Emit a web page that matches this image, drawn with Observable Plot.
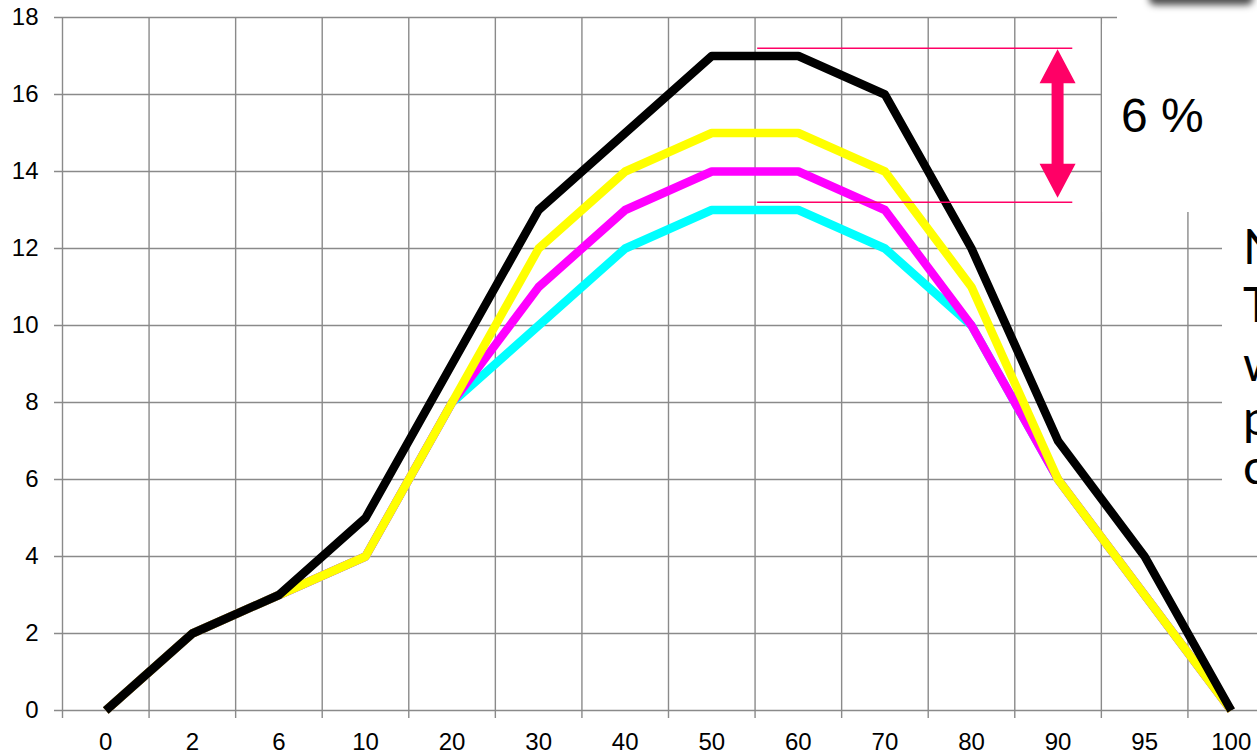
<!DOCTYPE html>
<html>
<head>
<meta charset="utf-8">
<script src="https://cdn.jsdelivr.net/npm/d3@7"></script>
<script src="https://cdn.jsdelivr.net/npm/@observablehq/plot@0.6"></script>
<style>
  html, body { margin: 0; padding: 0; background: #fff; overflow: hidden; }
  #wrap { position: relative; width: 1257px; height: 756px; overflow: hidden; background: #fff; }
  #chart svg { display: block; max-width: none !important; }
  .panel { position: absolute; background: #fff; }
  .note { position: absolute; white-space: nowrap; color: #000; }
</style>
</head>
<body>
<div id="wrap">
  <div id="chart"></div>
  <!-- text panels sitting over the right edge of the grid -->
  <div class="panel" style="left:1102px; top:24px; width:200px; height:188px;"></div>
  <div class="panel" style="left:1117px; top:0px; width:200px; height:30px;"></div>
  <div class="panel" style="left:1222px; top:212px; width:100px; height:290px;"></div>
  <div class="panel" style="left:1146px; top:-80px; width:104px; height:80px; border-radius:6px; box-shadow:3px 5px 7px rgba(0,0,0,0.7);"></div>
  <div class="note" style="left:1121px; top:92px; font:48px 'Liberation Sans', Arial, sans-serif; line-height:48px;">6 %</div>
  <div class="note" id="side" style="left:1243px; top:0; font:48px Lato, 'Open Sans', sans-serif;"></div>
</div>
<script>
// x categories (evenly spaced bands)
const categories = ["0", "2", "6", "10", "20", "30", "40", "50", "60", "70", "80", "90", "95", "100"];

// series values, one per category
const cyanValues    = [0, 2, 3, 4, 8, 10, 12, 13, 13, 12, 10, 6, 3, 0];
const magentaValues = [0, 2, 3, 4, 8, 11, 13, 14, 14, 13, 10, 6, 3, 0];
const yellowValues  = [0, 2, 3, 4, 8, 12, 14, 15, 15, 14, 11, 6, 3, 0];
const blackValues   = [0, 2, 3, 5, 9, 13, 15, 17, 17, 16, 12, 7, 4, 0];

// drawing order: first is underneath
const seriesNames  = ["cyan", "magenta", "yellow", "black"];
const seriesColors = ["#66ffff", "#ff00ff", "#ffff00", "#000000"];
const seriesValues = [cyanValues, magentaValues, yellowValues, blackValues];

// y tick values
const yTicks = [0, 2, 4, 6, 8, 10, 12, 14, 16, 18];

// spread bracket: two guide lines and a double arrow between them
const bracketLevels = [17.2, 13.2];
const bracketFrom = 7.53, bracketTo = 11.17, bracketArrowAt = 11;
const bracketColor = "#ff0066";

// side text (lines of a text box running off the right edge)
const sideLines = ["N", "T", "w", "p", "c"];
const sideBaselines = [262, 320, 379, 433, 482];

const rows = [];
seriesNames.forEach((name, s) => {
  seriesValues[s].forEach((v, i) => rows.push({series: name, i, value: v}));
});

const bandEdges = d3.range(categories.length + 1).map(k => k - 0.5);
const gridColor = "#8a8a8a";

const chart = Plot.plot({
  width: 1290,
  height: 756,
  marginLeft: 62,
  marginRight: 16,
  marginTop: 17,
  marginBottom: 46,
  style: {fontFamily: "'Liberation Sans', Arial, sans-serif", fontSize: "24px", color: "#000", background: "#fff", overflow: "visible"},
  x: {type: "linear", domain: [-0.5, categories.length - 0.5], ticks: d3.range(categories.length),
      tickFormat: i => categories[i], tickSize: 0, tickPadding: 22, label: null},
  y: {domain: [0, 18], ticks: yTicks, tickSize: 0, tickPadding: 24, label: null},
  color: {domain: seriesNames, range: seriesColors},
  marks: [
    Plot.ruleY(yTicks, {stroke: gridColor, strokeWidth: 1.4, insetLeft: -8}),
    Plot.ruleX(bandEdges, {stroke: gridColor, strokeWidth: 1.4, insetBottom: -8}),
    Plot.line(rows, {x: "i", y: "value", z: "series", stroke: "series", strokeWidth: 8.5,
                     strokeLinejoin: "round", strokeLinecap: "butt"}),
    Plot.ruleY(bracketLevels, {x1: bracketFrom, x2: bracketTo, stroke: bracketColor, strokeWidth: 1.6})
  ]
});
document.getElementById("chart").append(chart);

// double-headed arrow between the two guide lines
const sx = chart.scale("x"), sy = chart.scale("y");
const ax = sx.apply(bracketArrowAt);
const yT = sy.apply(bracketLevels[0]) + 1.5, yB = sy.apply(bracketLevels[1]) - 4;
const headH = 34, headW = 18, shaftW = 6;
const arrow = [
  [ax, yT], [ax + headW, yT + headH], [ax + shaftW, yT + headH],
  [ax + shaftW, yB - headH], [ax + headW, yB - headH], [ax, yB],
  [ax - headW, yB - headH], [ax - shaftW, yB - headH], [ax - shaftW, yT + headH],
  [ax - headW, yT + headH]
];
d3.select(chart).append("path")
  .attr("d", "M" + arrow.map(p => p.join(",")).join("L") + "Z")
  .attr("fill", bracketColor);

// side text lines
const side = document.getElementById("side");
sideLines.forEach((t, k) => {
  const d = document.createElement("div");
  d.textContent = t;
  d.style.position = "absolute";
  d.style.left = "0px";
  d.style.top = (sideBaselines[k] - 40) + "px";
  d.style.lineHeight = "48px";
  side.append(d);
});
</script>
</body>
</html>
